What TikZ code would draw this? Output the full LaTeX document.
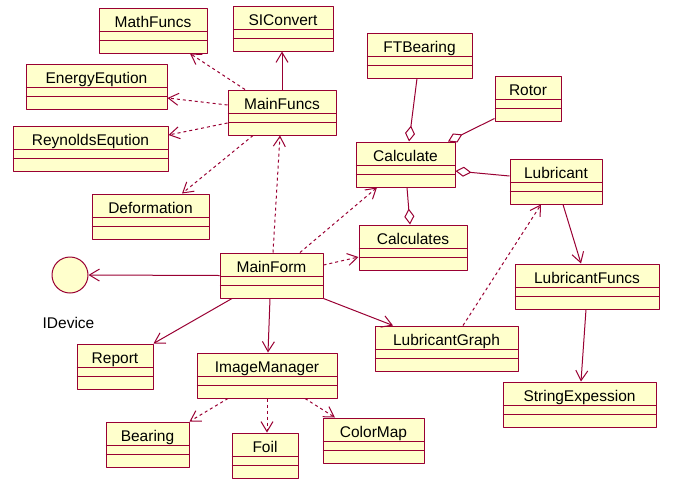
\documentclass[tikz,border=0pt]{standalone}
\usepackage{fontspec}
\setmainfont{Liberation Sans}
\usetikzlibrary{arrows.meta}
\definecolor{rose}{HTML}{990033}
\definecolor{cream}{HTML}{FFFFCC}
\begin{document}
\begin{tikzpicture}[x=1pt, y=-1pt, font=\fontsize{15.5}{18}\selectfont, line join=round,
	cls/.style={draw=rose, fill=cream, line width=1pt, minimum height=45pt, inner sep=0pt},
	rel/.style={draw=rose, line width=1pt},
	dep/.style={rel, dash pattern=on 3pt off 3pt, -{Straight Barb[length=10pt,width=12pt]}},
	nav/.style={rel, -{Straight Barb[length=10pt,width=12pt]}},
	agg/.style={rel, -{Diamond[open,length=16pt,width=10pt]}}]
	\useasboundingbox (0,0) rectangle (675,493);
	\foreach \n/\x/\y/\w in {MathFuncs/153/30.5/108, SIConvert/283/28.5/100, EnergyEqution/96.5/86.5/141,
		MainFuncs/282/112.5/108, ReynoldsEqution/90.5/148.5/155, Deformation/150.5/216.5/117,
		FTBearing/419.5/55.5/105, Rotor/528/98.5/66, Calculate/405.5/164.5/99, Lubricant/556/181.5/92,
		Calculates/413/247.5/108, MainForm/271.5/275.5/103, LubricantFuncs/587/286.5/144,
		LubricantGraph/446.5/348.5/143, Report/115/366.5/76, StringExpession/579.5/404.5/153,
		ImageManager/267/375.5/140, Bearing/147.5/444.5/83, Foil/265/455.5/66, ColorMap/373.5/440.5/101}
	{
		\node[cls, minimum width=\w pt] (\n) at (\x,\y) {};
		\node[anchor=base] (\n-t) at ([yshift=-20pt]\n.north) {\n};
		\draw[rel] ([yshift=-24pt]\n.north west) -- ([yshift=-24pt]\n.north east)
		([yshift=-33pt]\n.north west) -- ([yshift=-33pt]\n.north east);
	}
	\node[circle, draw=rose, fill=cream, line width=1pt, minimum size=36pt, inner sep=0pt] (IDevice) at (70,275) {};
	\node (IDevice-t) at (68.5,323) {IDevice};
	\draw[dep] ([xshift=-37pt]MainFuncs.north) -- ([xshift=37pt]MathFuncs.south);
	\draw[nav] (MainFuncs.north) -- (MainFuncs.north |- SIConvert.south);
	\draw[dep] ([yshift=7.5pt]MainFuncs.west) -- ([yshift=-11.5pt]EnergyEqution.east);
	\draw[dep] ([yshift=-10.5pt]MainFuncs.west) -- ([yshift=13.5pt]ReynoldsEqution.east);
	\draw[dep] ([xshift=-29pt]MainFuncs.south) -- ([xshift=31.5pt]Deformation.north);
	\draw[dep] ([xshift=1.5pt]MainForm.north) -- ([xshift=-2pt]MainFuncs.south);
	\draw[dep] ([xshift=28.5pt]MainForm.north) -- ([xshift=-28.5pt]Calculate.south);
	\draw[dep] ([yshift=10.5pt]MainForm.east) -- ([yshift=-9.5pt]Calculates.west);
	\draw[nav] (MainForm.west) -- (IDevice.east);
	\draw[nav] ([xshift=-39.5pt]MainForm.south) -- (Report.north east);
	\draw[nav] ([xshift=-1.5pt]MainForm.south) -- ([xshift=1pt]ImageManager.north);
	\draw[nav] (MainForm.south east) -- ([xshift=-53.5pt]LubricantGraph.north);
	\draw[dep] ([xshift=-39pt]ImageManager.south) -- (Bearing.north east);
	\draw[dep] (ImageManager.south) -- ([xshift=2pt]Foil.north);
	\draw[dep] ([xshift=38pt]ImageManager.south) -- ([xshift=-38.5pt]ColorMap.north);
	\draw[dep] ([xshift=16.5pt]LubricantGraph.north) -- ([xshift=-15pt]Lubricant.south);
	\draw[nav] ([xshift=7pt]Lubricant.south) -- ([xshift=-6pt]LubricantFuncs.north);
	\draw[nav] ([xshift=-1pt]LubricantFuncs.south) -- ([xshift=1.5pt]StringExpession.north);
	\draw[agg] ([xshift=-2.5pt]FTBearing.south) -- ([xshift=3.5pt]Calculate.north);
	\draw[agg] ([yshift=3pt]Rotor.south west) -- ([xshift=42.5pt]Calculate.north);
	\draw[agg] ([yshift=5.5pt]Lubricant.west) -- ([yshift=-6.5pt]Calculate.east);
	\draw[agg] ([xshift=1.5pt]Calculate.south) -- ([xshift=-3pt]Calculates.north);
\end{tikzpicture}
\end{document}
